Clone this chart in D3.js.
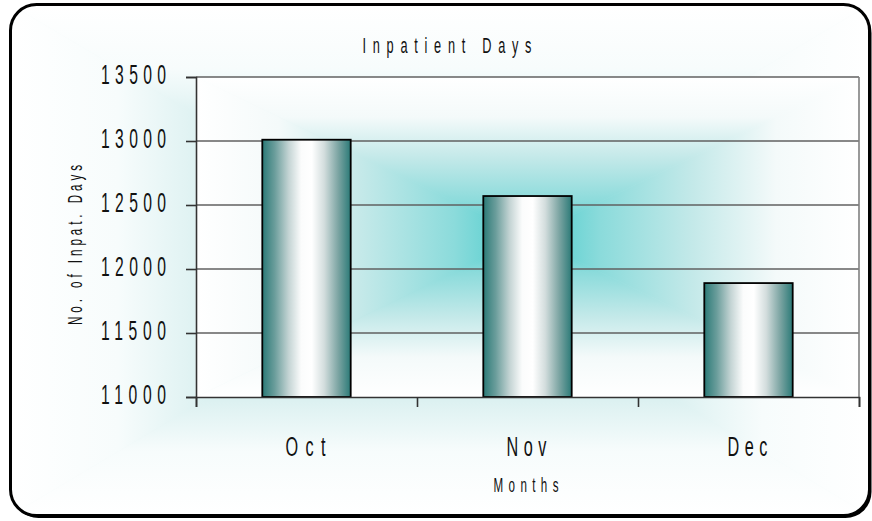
<!DOCTYPE html>
<html>
<head>
<meta charset="utf-8">
<script src="https://cdn.jsdelivr.net/npm/d3@7"></script>
<style>
  body { margin: 0; background: #fff; }
  svg { display: block; font-family: "Liberation Sans", Arial, sans-serif; fill: #111; }
</style>
</head>
<body>
<svg class="chart" width="872" height="521"></svg>
<script>
// data
const months = ["Oct", "Nov", "Dec"];
const inpatientDays = [13010, 12570, 11890];
const yTicks = [11000, 11500, 12000, 12500, 13000, 13500];
const chartTitle = "Inpatient Days";
const xTitle = "Months";
const yTitle = "No. of Inpat. Days";

const svg = d3.select("svg.chart");
const defs = svg.append("defs");
const plot = {left: 196, top: 77, right: 859, bottom: 397};
const frame = {x: 10.5, y: 4.5, w: 859, h: 511, r: 26};
const sx = 0.58; // squeeze text sideways, the original uses a narrow font

// rectangular "from center" gradient made of four triangles
function fromCenter(g, id, x, y, w, h, stops) {
    const cx = x + w / 2, cy = y + h / 2;
    const parts = [
        {pts: [[x, y], [x + w, y], [cx, cy]], from: [cx, y], to: [cx, cy]},
        {pts: [[x, y + h], [x + w, y + h], [cx, cy]], from: [cx, y + h], to: [cx, cy]},
        {pts: [[x, y], [x, y + h], [cx, cy]], from: [x, cy], to: [cx, cy]},
        {pts: [[x + w, y], [x + w, y + h], [cx, cy]], from: [x + w, cy], to: [cx, cy]}
    ];
    parts.forEach((p, i) => {
        const lg = defs.append("linearGradient")
            .attr("id", id + i)
            .attr("gradientUnits", "userSpaceOnUse")
            .attr("x1", p.from[0]).attr("y1", p.from[1])
            .attr("x2", p.to[0]).attr("y2", p.to[1]);
        stops.forEach(s => lg.append("stop").attr("offset", s[0]).attr("stop-color", s[1]));
        g.append("polygon")
            .attr("points", p.pts.map(d => d.join(",")).join(" "))
            .attr("fill", `url(#${id}${i})`)
            .attr("stroke", `url(#${id}${i})`)
            .attr("stroke-width", 0.6);
    });
}

function narrowText(g, x, y, str, size, len, anchor) {
    return g.append("text")
        .attr("transform", `translate(${x},${y}) scale(${sx},1)`)
        .attr("text-anchor", anchor)
        .style("font-size", size + "px")
        .attr("textLength", len / sx)
        .attr("lengthAdjust", "spacing")
        .text(str);
}

//shadow + chart area
svg.append("rect")
    .attr("x", frame.x + 2).attr("y", frame.y + 2.5)
    .attr("width", frame.w).attr("height", frame.h)
    .attr("rx", frame.r).attr("fill", "#000");

defs.append("clipPath").attr("id", "frameClip")
    .append("rect")
    .attr("x", frame.x).attr("y", frame.y)
    .attr("width", frame.w).attr("height", frame.h)
    .attr("rx", frame.r);

const area = svg.append("g").attr("clip-path", "url(#frameClip)");
area.append("rect")
    .attr("x", frame.x).attr("y", frame.y)
    .attr("width", frame.w).attr("height", frame.h)
    .attr("fill", "#e4f4f4");
fromCenter(area, "ca", frame.x, frame.y, frame.w, frame.h,
    [[0, "#ffffff"], [0.25, "#f7fcfc"], [0.45, "#dcf1f1"], [1, "#8fdada"]]);

svg.append("rect")
    .attr("x", frame.x).attr("y", frame.y)
    .attr("width", frame.w).attr("height", frame.h)
    .attr("rx", frame.r)
    .attr("fill", "none")
    .attr("stroke", "#000")
    .attr("stroke-width", 3);

//plot area gradient
const pa = svg.append("g");
fromCenter(pa, "pa", plot.left, plot.top, plot.right - plot.left, plot.bottom - plot.top,
    [[0, "#ffffff"], [0.25, "#f4fafa"], [0.5, "#c4e9e9"], [0.78, "#8bdbdb"], [1, "#44cbcb"]]);

//scales
const x = d3.scaleBand().domain(months)
    .range([plot.left, plot.right])
    .paddingInner(0.6).paddingOuter(0.3);
const xb = d3.scaleLinear().domain([0, months.length]).range([plot.left, plot.right]);
const y = d3.scaleLinear().domain([11000, 13500]).range([plot.bottom, plot.top]);

//gridlines
svg.append("g").selectAll("line.grid")
    .data(yTicks.slice(1))
    .enter()
    .append("line")
        .attr("class", "grid")
        .attr("x1", plot.left).attr("x2", plot.right)
        .attr("y1", d => y(d)).attr("y2", d => y(d))
        .attr("stroke", "#606060")
        .attr("stroke-width", 1.6);
svg.append("line")
    .attr("x1", plot.right).attr("x2", plot.right)
    .attr("y1", plot.top).attr("y2", plot.bottom)
    .attr("stroke", "#808080").attr("stroke-width", 1.6);

//bars
const bg = defs.append("linearGradient").attr("id", "barFill");
[[0, "#2b7a77"], [0.14, "#6a9d9b"], [0.3, "#c4d4d4"], [0.44, "#fbfcfc"], [0.56, "#ffffff"],
 [0.7, "#d3dddd"], [0.86, "#7ba4a2"], [1, "#2b7a77"]]
    .forEach(s => bg.append("stop").attr("offset", s[0]).attr("stop-color", s[1]));

svg.append("g").selectAll("rect.bar")
    .data(months)
    .enter()
    .append("rect")
        .attr("class", "bar")
        .attr("x", d => x(d))
        .attr("width", x.bandwidth())
        .attr("y", (d, i) => y(inpatientDays[i]))
        .attr("height", (d, i) => y(11000) - y(inpatientDays[i]))
        .attr("fill", "url(#barFill)")
        .attr("stroke", "#000")
        .attr("stroke-width", 1.8);

//axes
const yAxis = svg.append("g")
    .attr("transform", `translate(${plot.left},0)`)
    .call(d3.axisLeft(y).tickValues(yTicks).tickSize(10).tickFormat(""));
const xAxis = svg.append("g")
    .attr("transform", `translate(0,${plot.bottom})`)
    .call(d3.axisBottom(xb).ticks(months.length).tickSize(10).tickFormat(""));
[yAxis, xAxis].forEach(a => {
    a.select(".domain").attr("stroke", "#333").attr("stroke-width", 1.6);
    a.selectAll(".tick line").attr("stroke", "#333").attr("stroke-width", 1.6);
});

//labels
const labels = svg.append("g");
yTicks.forEach(t => narrowText(labels, 166, y(t) + 7, d3.format("d")(t), 27, 65, "end"));
months.forEach(m => narrowText(labels, x(m) + x.bandwidth() / 2 - 1, 456, m, 28, 40, "middle"));
narrowText(labels, 447, 53, chartTitle, 22, 169, "middle");
narrowText(labels, 526, 492, xTitle, 20, 65, "middle");
labels.append("text")
    .attr("transform", `translate(82,245) rotate(-90) scale(${sx},1)`)
    .attr("text-anchor", "middle")
    .style("font-size", "20px")
    .attr("textLength", 160 / sx)
    .attr("lengthAdjust", "spacing")
    .text(yTitle);
</script>
</body>
</html>
